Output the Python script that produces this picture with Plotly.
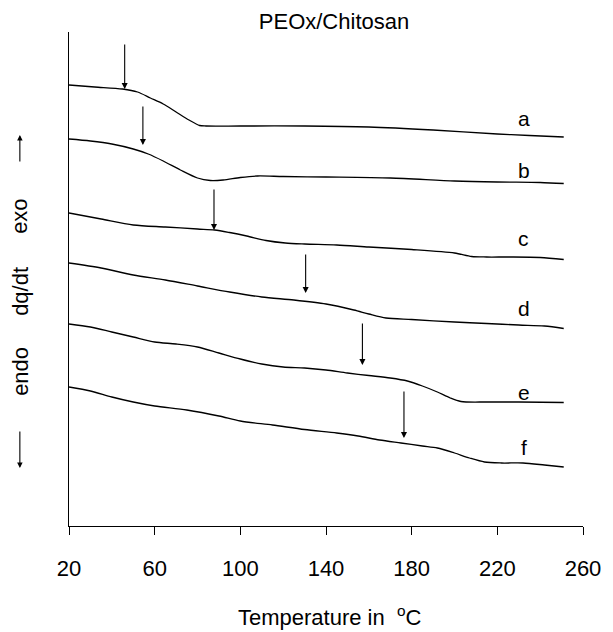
import plotly.graph_objects as go

# DSC traces of PEOx/Chitosan blends (heat flow in arbitrary, stacked units)
temp_a = [20, 32, 45, 52, 58, 64, 70, 76, 81, 84, 100, 130, 160, 190, 220, 235, 251]
flow_a = [441, 439, 437, 434, 428, 422, 414, 406, 400.5, 400, 400, 400, 399, 396, 392, 390.5, 389]

temp_b = [20, 30, 40, 50, 57, 64, 72, 80, 86, 92, 100, 108, 120, 140, 170, 200, 220, 240, 251]
flow_b = [387, 385, 382, 377, 372, 365, 356, 348, 345.5, 346, 348.5, 350, 349.5, 349, 348, 345, 344, 343.5, 342.5]

temp_c = [20, 35, 50, 65, 80, 88, 95, 103, 112, 121, 130, 145, 160, 180, 200, 208, 215, 226, 240, 251]
flow_c = [313, 307, 301, 299, 297, 296, 293.5, 290, 285.5, 283, 282, 281, 279, 276.5, 273, 269.5, 269, 269, 268.5, 266.5]

temp_d = [20, 35, 50, 65, 80, 95, 110, 125, 140, 153, 160, 168, 180, 200, 215, 230, 242, 251]
flow_d = [263, 258, 251, 246, 240, 234, 229, 226, 222, 216, 212, 208, 206.5, 204, 202.5, 201, 200, 197.5]

temp_e = [20, 30, 40, 50, 60, 70, 80, 90, 100, 110, 120, 130, 140, 150, 160, 170, 178, 185, 192, 198, 203, 215, 230, 251]
flow_e = [202, 199, 194, 189, 184, 182, 179, 173, 167, 162, 159, 158, 156, 153, 150.5, 148, 145, 140, 134, 128, 124.5, 124, 124, 123.5]

temp_f = [20, 30, 40, 50, 60, 75, 90, 100, 115, 130, 145, 155, 165, 175, 185, 192, 200, 207, 214, 222, 232, 242, 251]
flow_f = [139, 135, 129, 124, 120, 116, 110, 105, 101, 96.5, 93, 90, 86, 83, 80, 78, 73, 68, 64, 63, 63, 61, 59]

curve_names = ["a", "b", "c", "d", "e", "f"]
curve_temps = [temp_a, temp_b, temp_c, temp_d, temp_e, temp_f]
curve_flows = [flow_a, flow_b, flow_c, flow_d, flow_e, flow_f]

# curve letters, placed near the right end of each trace
label_temp = [232.4, 232.4, 232.4, 232.4, 232.4, 232.4]
label_flow = [408, 356, 288, 218, 134, 79]

# glass transition markers: temperature, arrow tail and tip heights
tg_temp = [46, 54.5, 87.7, 130.5, 157, 176.4]
tg_tail = [483, 421, 338, 273, 204, 136]
tg_tip = [437, 381, 296, 233, 161, 88]

x_ticks = [20, 60, 100, 140, 180, 220, 260]

FONT = "Liberation Sans, Arial, sans-serif"
W, H = 613, 632
plot_left, plot_right, plot_top, plot_bottom = 69, 592, 32, 526
pw, ph = plot_right - plot_left, plot_bottom - plot_top


def paper(px, py):
    """Page position in pixels -> paper coordinates of the plot area."""
    return (px - plot_left) / pw, (plot_bottom - py) / ph


fig = go.Figure()
for name, t, f in zip(curve_names, curve_temps, curve_flows):
    fig.add_trace(go.Scatter(
        x=t, y=f, mode="lines", name=name,
        line=dict(color="black", width=1.3, shape="spline", smoothing=0.8),
        showlegend=False, hoverinfo="skip",
    ))

ann = []
for name, lt, lf in zip(curve_names, label_temp, label_flow):
    ann.append(dict(
        x=lt, y=lf, xref="x", yref="y", text=name, showarrow=False,
        font=dict(family=FONT, size=21, color="black"),
        xanchor="center", yanchor="middle",
    ))

for tt, tail, tip in zip(tg_temp, tg_tail, tg_tip):
    ann.append(dict(
        x=tt, y=tip, ax=tt, ay=tail, xref="x", yref="y", axref="x", ayref="y",
        text="", showarrow=True, arrowhead=2, arrowsize=1.1, arrowwidth=1.1,
        arrowcolor="black", standoff=0, startstandoff=0,
    ))

# y-axis caption: endo / dq/dt / exo
for word, py in [("exo", 216), ("dq/dt", 291), ("endo", 371)]:
    x, y = paper(19, py)
    ann.append(dict(
        x=x, y=y, xref="paper", yref="paper", text=word, showarrow=False,
        textangle=-90, font=dict(family=FONT, size=22, color="black"),
        xanchor="center", yanchor="middle",
    ))

# direction arrows beside the caption (tip position, pixel offset to tail)
for tip_py, offset in [(135, 28), (468, -38)]:
    x, y = paper(19, tip_py)
    ann.append(dict(
        x=x, y=y, xref="paper", yref="paper", ax=0, ay=offset,
        axref="pixel", ayref="pixel", text="", showarrow=True,
        arrowhead=2, arrowsize=1.0, arrowwidth=1.1, arrowcolor="black",
        standoff=0, startstandoff=0,
    ))

# x-axis caption
cx, cy = paper(335, 616)
ann.append(dict(
    x=cx, y=cy, xref="paper", yref="paper",
    text="Temperature in  <sup>o</sup>C", showarrow=False,
    font=dict(family=FONT, size=22, color="black"),
    xanchor="center", yanchor="middle",
))

fig.update_layout(
    annotations=ann,
    width=W, height=H,
    margin=dict(l=plot_left, r=W - plot_right, t=plot_top, b=H - plot_bottom, pad=0),
    paper_bgcolor="white", plot_bgcolor="white",
    title=dict(text="PEOx/Chitosan", x=334 / W, y=1 - 21 / H,
               xref="container", yref="container",
               xanchor="center", yanchor="middle",
               font=dict(family=FONT, size=22, color="black")),
    xaxis=dict(range=[20, 260], tickvals=x_ticks, ticktext=[str(v) for v in x_ticks],
               showline=True, linecolor="black", linewidth=1.2,
               ticks="outside", ticklen=8, tickwidth=1.2, tickcolor="black",
               showgrid=False, zeroline=False, ticklabelstandoff=14,
               tickfont=dict(family=FONT, size=22, color="black")),
    yaxis=dict(range=[0, 494], showline=True, linecolor="black", linewidth=1.2,
               showticklabels=False, ticks="", showgrid=False, zeroline=False),
)

fig.write_html("out.html")
